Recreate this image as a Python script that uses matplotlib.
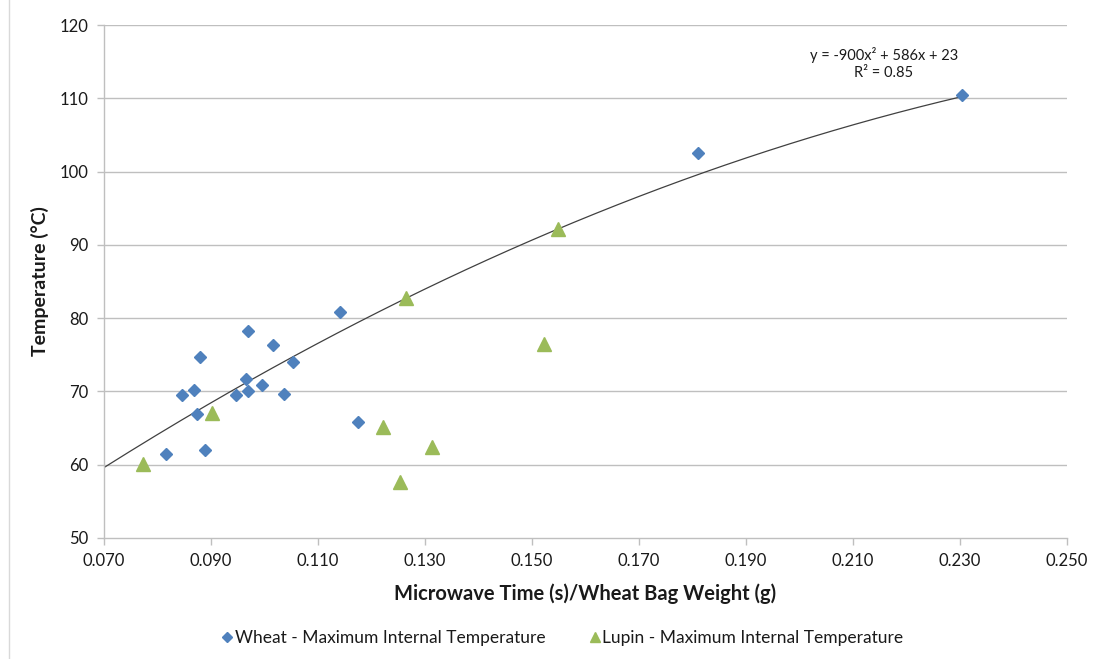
import matplotlib
matplotlib.use("Agg")
import matplotlib.pyplot as plt
from matplotlib.lines import Line2D
import numpy as np

plt.rcParams['font.family'] = ['Lato', 'DejaVu Sans']

wheat_x = [0.0816, 0.0846, 0.0868, 0.0874, 0.0880, 0.0889, 0.0947, 0.0965, 0.0969,
           0.0969, 0.0995, 0.1016, 0.1036, 0.1053, 0.1141, 0.1174, 0.1810, 0.2304]
wheat_y = [61.5, 69.5, 70.2, 66.9, 74.7, 62.0, 69.5, 71.7, 78.3,
           70.1, 70.9, 76.3, 69.7, 74.0, 80.8, 65.8, 102.6, 110.5]
lupin_x = [0.0772, 0.0902, 0.1221, 0.1253, 0.1264, 0.1314, 0.1522, 0.1549]
lupin_y = [60.1, 67.1, 65.1, 57.6, 82.8, 62.4, 76.5, 92.1]
trend_coef = [-900, 586, 23]
trend_range = [0.070, 0.2304]
x_ticks = [0.070, 0.090, 0.110, 0.130, 0.150, 0.170, 0.190, 0.210, 0.230, 0.250]
y_ticks = [50, 60, 70, 80, 90, 100, 110, 120]

W, H = 1096, 659
fig = plt.figure(figsize=(W / 100, H / 100), dpi=100)
ax = fig.add_axes([104 / W, 1 - 538 / H, (1067 - 104) / W, (538 - 25) / H])

grid_c = '#BFBFBF'
for yv in y_ticks[1:]:
    ax.axhline(yv, color=grid_c, lw=1, zorder=1)

xs = np.linspace(trend_range[0], trend_range[1], 200)
ax.plot(xs, np.polyval(trend_coef, xs), color='#404040', lw=0.9, zorder=2)

ax.plot(wheat_x, wheat_y, linestyle='none', marker='D', ms=6.6, color='#4F81BD',
        mec='#4F81BD', zorder=3)
ax.plot(lupin_x, lupin_y, linestyle='none', marker='^', ms=10, color='#9BBB59',
        mec='#9BBB59', zorder=3)

ax.set_xlim(0.070, 0.250)
ax.set_ylim(50, 120)
ax.set_xticks(x_ticks)
ax.set_xticklabels([f'{v:.3f}' for v in x_ticks])
ax.set_yticks(y_ticks)
ax.tick_params(axis='both', colors=grid_c, labelcolor='#1a1a1a', labelsize=12,
               length=5, width=1)
ax.tick_params(axis='x', pad=6)
ax.tick_params(axis='y', pad=6)
for s in ['top', 'right']:
    ax.spines[s].set_visible(False)
for s in ['left', 'bottom']:
    ax.spines[s].set_color(grid_c)
    ax.spines[s].set_linewidth(1)

ax.set_xlabel('Microwave Time (s)/Wheat Bag Weight (g)', fontsize=14.5, fontweight='bold',
              color='#1a1a1a', labelpad=10)
ax.set_ylabel('Temperature (°C)', fontsize=14, fontweight='bold', color='#1a1a1a',
              labelpad=8)

ax.text(0.2158, 114.7, 'y = -900x² + 586x + 23\nR² = 0.85', ha='center', va='center',
        fontsize=10.5, color='#1a1a1a', linespacing=1.3)

handles = [Line2D([], [], linestyle='none', marker='D', ms=5, color='#4F81BD'),
           Line2D([], [], linestyle='none', marker='^', ms=7, color='#9BBB59')]
fig.legend(handles, ['Wheat - Maximum Internal Temperature', 'Lupin - Maximum Internal Temperature'],
           loc='center', bbox_to_anchor=(563 / W, 1 - 638 / H), ncol=2, frameon=False,
           fontsize=12.5, handlelength=0.5, handletextpad=0.2, columnspacing=2.6,
           labelcolor='#1a1a1a')

fig.add_artist(Line2D([9 / W, 9 / W], [0, 1], color='#D9D9D9', lw=1))

fig.savefig('out.png', dpi=100, facecolor='white')
